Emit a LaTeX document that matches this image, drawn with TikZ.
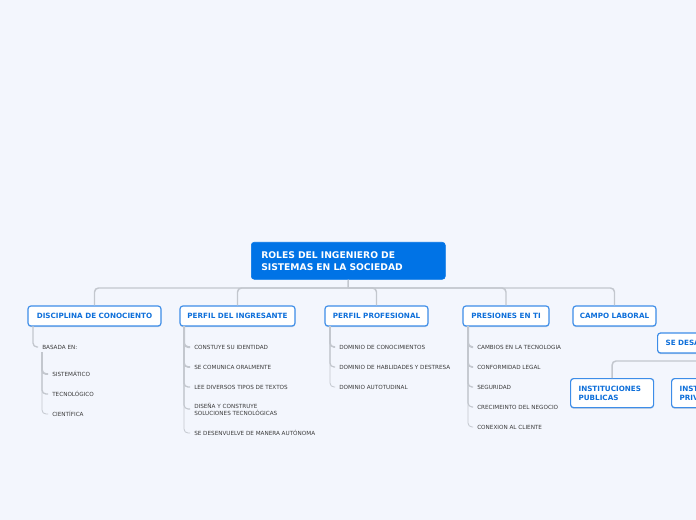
\documentclass[tikz,border=0pt]{standalone}
\usepackage{fontspec}
\setmainfont{DejaVu Sans}
\usetikzlibrary{calc}
\definecolor{bg}{HTML}{F3F6FD}
\definecolor{rootblue}{HTML}{0073E6}
\definecolor{boxline}{HTML}{3D8DE8}
\definecolor{boxtext}{HTML}{0E6FDA}
\definecolor{treeline}{HTML}{C3C7CE}
\definecolor{itemtext}{HTML}{3A3A3A}
\definecolor{shadowc}{HTML}{C9D3E3}
\tikzset{
  rootbox/.style={fill=rootblue, draw=rootblue, rounded corners=2.2pt, text=white,
    font=\fontsize{6.9}{9}\selectfont\bfseries, align=left, text width=130.5pt,
    inner xsep=7.5pt, inner ysep=0pt, minimum height=27.75pt, anchor=north west},
  mainbox/.style={fill=white, draw=boxline, line width=0.9pt, rounded corners=2.2pt,
    text=boxtext, font=\fontsize{5.4}{6.8}\selectfont\bfseries, inner sep=0pt,
    minimum height=15pt, drop shadow/.style={}, 
    preaction={fill=shadowc, transform canvas={yshift=-0.9pt}}},
  item/.style={anchor=west, inner xsep=3pt, inner ysep=0pt, text=itemtext,
    font=\fontsize{4.25}{5.2}\selectfont, align=left},
  link/.style={draw=treeline, line width=1.1pt, rounded corners=3pt},
  twig/.style={draw=treeline, rounded corners=3pt},
}
\begin{document}
\begin{tikzpicture}[x=0.75pt,y=-0.75pt]
\fill[bg] (0,0) rectangle (696,520);
\useasboundingbox (0,0) rectangle (696,520);
\clip (0,0) rectangle (696,520);

% root
\node[rootbox] (root) at (251,242) {ROLES DEL INGENIERO DE\\SISTEMAS EN LA SOCIEDAD};
\coordinate (bar) at (348,288);

% main boxes
\node[mainbox, minimum width=99.75pt] (disc) at (94.5,316) {DISCIPLINA DE CONOCIENTO};
\node[mainbox, minimum width=86.25pt] (ingr) at (237.5,316) {PERFIL DEL INGRESANTE};
\node[mainbox, minimum width=77.25pt] (prof) at (376.5,316) {PERFIL PROFESIONAL};
\node[mainbox, minimum width=64.5pt] (pres) at (506,316) {PRESIONES EN TI};
\node[mainbox, minimum width=62.25pt] (camp) at (614.5,316) {CAMPO LABORAL};

% root connectors
\draw[link] (root.south) -- (bar);
\foreach \c in {disc,ingr,prof,pres,camp}{
  \draw[link] (bar) -| (\c.north);
}

% right branch
\node[mainbox, anchor=west, minimum width=67.5pt, text width=55.5pt, inner xsep=6pt, align=left] (desa) at (657,343) {SE DESA};
\node[mainbox, anchor=north west, text width=50.25pt, inner xsep=6pt, minimum height=21.75pt, align=left] (ipub) at (570,378) {INSTITUCIONES\\PUBLICAS};
\node[mainbox, anchor=north west, text width=50.25pt, inner xsep=6pt, minimum height=21.75pt, align=left] (ipriv) at (671,378) {INST\\PRIV};
\coordinate (bar2) at (702,361);
\draw[link] (desa.south) -- (bar2);
\draw[link] (bar2) -| (ipub.north);
\draw[link] (bar2) -| (ipriv.north);

% DISCIPLINA
\coordinate (d0) at (33,326);
\node[item] (basada) at (38,347) {BASADA EN:};
\draw[twig, line width=1pt] (d0) |- (basada.west);
\coordinate (b0) at (42,352);
\node[item] (sis) at (48,374) {SISTEMÁTICO};
\node[item] (tec) at (48,394) {TECNOLÓGICO};
\node[item] (cie) at (48,414) {CIENTÍFICA};
\draw[twig, line width=1.4pt] (b0) |- (sis.west);
\draw[twig, line width=1.0pt] (b0) |- (tec.west);
\draw[twig, line width=0.6pt] (b0) |- (cie.west);

% PERFIL DEL INGRESANTE
\coordinate (i0) at (184,326);
\node[item] (i1) at (190,347) {CONSTUYE SU IDENTIDAD};
\node[item] (i2) at (190,367) {SE COMUNICA ORALMENTE};
\node[item] (i3) at (190,387) {LEE DIVERSOS TIPOS DE TEXTOS};
\node[item] (i4) at (190,409) {DISEÑA Y CONSTRUYE\\SOLUCIONES TECNOLÓGICAS};
\node[item] (i5) at (190,433) {SE DESENVUELVE DE MANERA AUTÓNOMA};
\draw[twig, line width=1.5pt] (i0) |- (i1.west);
\draw[twig, line width=1.25pt] (i0) |- (i2.west);
\draw[twig, line width=1.0pt] (i0) |- (i3.west);
\draw[twig, line width=0.8pt] (i0) |- (i4.west);
\draw[twig, line width=0.6pt] (i0) |- (i5.west);

% PERFIL PROFESIONAL
\coordinate (p0) at (330,326);
\node[item] (p1) at (335,347) {DOMINIO DE CONOCIMIENTOS};
\node[item] (p2) at (335,367) {DOMINIO DE HABLIDADES Y DESTRESA};
\node[item] (p3) at (335,387) {DOMINIO AUTOTUDINAL};
\draw[twig, line width=1.2pt] (p0) |- (p1.west);
\draw[twig, line width=0.9pt] (p0) |- (p2.west);
\draw[twig, line width=0.6pt] (p0) |- (p3.west);

% PRESIONES EN TI
\coordinate (t0) at (468,326);
\node[item] (t1) at (473,347) {CAMBIOS EN LA TECNOLOGIA};
\node[item] (t2) at (473,367) {CONFORMIDAD LEGAL};
\node[item] (t3) at (473,387) {SEGURIDAD};
\node[item] (t4) at (473,407) {CRECIMEINTO DEL NEGOCIO};
\node[item] (t5) at (473,427) {CONEXION AL CLIENTE};
\draw[twig, line width=1.5pt] (t0) |- (t1.west);
\draw[twig, line width=1.25pt] (t0) |- (t2.west);
\draw[twig, line width=1.0pt] (t0) |- (t3.west);
\draw[twig, line width=0.8pt] (t0) |- (t4.west);
\draw[twig, line width=0.6pt] (t0) |- (t5.west);
\end{tikzpicture}
\end{document}
